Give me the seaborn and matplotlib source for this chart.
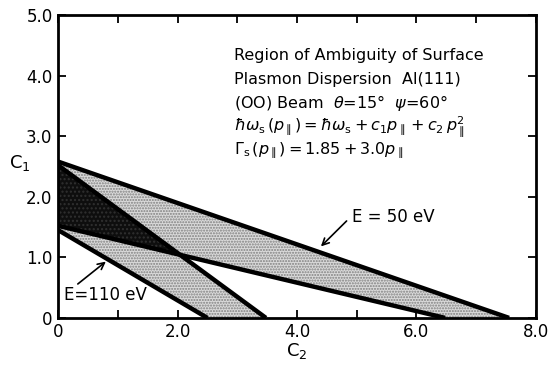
import numpy as np
import seaborn as sns
import matplotlib
matplotlib.use("Agg")
import matplotlib.pyplot as plt

# boundary lines of the ambiguity regions: (C2, C1) end points
upper_50 = [(0.0, 2.58), (7.55, 0.0)]
lower_50 = [(0.0, 1.52), (6.48, 0.0)]
upper_110 = [(0.0, 2.52), (3.48, 0.0)]
lower_110 = [(0.0, 1.45), (2.50, 0.0)]

x_ticks = [0, 1, 2, 3, 4, 5, 6, 7, 8]
x_labels = ["0", "", "2.0", "", "4.0", "", "6.0", "", "8.0"]
y_ticks = [0, 1, 2, 3, 4, 5]
y_labels = ["0", "1.0", "2.0", "3.0", "4.0", "5.0"]

info_lines = [
    "Region of Ambiguity of Surface",
    "Plasmon Dispersion  Al(111)",
    r"(OO) Beam  $\theta$=15°  $\psi$=60°",
    r"$\hbar\omega_{\rm s}\,(p_{\parallel}) = \hbar\omega_{\rm s} + c_1 p_{\parallel} + c_2\, p_{\parallel}^2$",
    r"$\Gamma_{\rm s}\,(p_{\parallel}) = 1.85 + 3.0p_{\parallel}$",
]

sns.set_theme(style="ticks")
plt.rcParams["font.family"] = ["DejaVu Sans"]
plt.rcParams["mathtext.fontset"] = "dejavusans"
plt.rcParams["text.color"] = "black"
plt.rcParams["xtick.labelcolor"] = "black"
plt.rcParams["ytick.labelcolor"] = "black"
plt.rcParams["axes.labelcolor"] = "black"

fig = plt.figure(figsize=(5.48, 3.65), dpi=100)
ax = fig.add_axes([0.106, 0.129, 0.872, 0.830])


def band(top, bottom):
    return [top[0], top[1], bottom[1], bottom[0]]


def intersect(a, b):
    (x1, y1), (x2, y2) = a
    (x3, y3), (x4, y4) = b
    m1 = (y2 - y1) / (x2 - x1)
    m2 = (y4 - y3) / (x4 - x3)
    x = (y3 - y1 + m1 * x1 - m2 * x3) / (m1 - m2)
    return (x, y1 + m1 * (x - x1))


# stippled bands
for top, bottom in [(upper_50, lower_50), (upper_110, lower_110)]:
    pts = np.array(band(top, bottom))
    ax.fill(pts[:, 0], pts[:, 1], facecolor="#dadada", edgecolor="#808080",
            hatch="......", linewidth=0)

# overlap region is dark
cross = intersect(upper_110, lower_50)
ov = np.array([upper_110[0], cross, lower_50[0]])
ax.fill(ov[:, 0], ov[:, 1], facecolor="#0e0e0e", edgecolor="#303030",
        hatch="....", linewidth=0)

for seg in [upper_50, lower_50, upper_110, lower_110]:
    seg = np.array(seg)
    sns.lineplot(x=seg[:, 0], y=seg[:, 1], ax=ax, color="black", lw=3.2,
                 solid_capstyle="butt")

ax.set_xlim(0, 8)
ax.set_ylim(0, 5)
ax.set_xticks(x_ticks)
ax.set_xticklabels(x_labels)
ax.set_yticks(y_ticks)
ax.set_yticklabels(y_labels)
ax.tick_params(direction="in", length=6, width=1.3, labelsize=12,
               top=True, right=True, color="black", pad=4)
for s in ax.spines.values():
    s.set_linewidth(2)
    s.set_color("black")
    s.set_visible(True)

ax.set_xlabel(r"$\mathrm{C}_2$", fontsize=13, va="center", ha="center")
ax.xaxis.set_label_coords(0.5, -0.109)
ax.set_ylabel(r"$\mathrm{C}_1$", fontsize=13, rotation=0, va="center", ha="center")
ax.yaxis.set_label_coords(-0.081, 0.51)

y0 = 4.33
for i, line in enumerate(info_lines):
    ax.text(2.95, y0 - i * 0.39, line, fontsize=11.5, va="center", ha="left")

ax.text(4.92, 1.67, "E = 50 eV", fontsize=12, va="center", ha="left")
ax.annotate("", xy=(4.4, 1.18), xytext=(4.83, 1.6),
            arrowprops=dict(arrowstyle="->", color="black", lw=1.2,
                            shrinkA=0, shrinkB=0))
ax.text(0.1, 0.38, "E=110 eV", fontsize=12, va="center", ha="left")
ax.annotate("", xy=(0.8, 0.93), xytext=(0.33, 0.56),
            arrowprops=dict(arrowstyle="->", color="black", lw=1.2,
                            shrinkA=0, shrinkB=0))

fig.savefig("out.png", dpi=100)
